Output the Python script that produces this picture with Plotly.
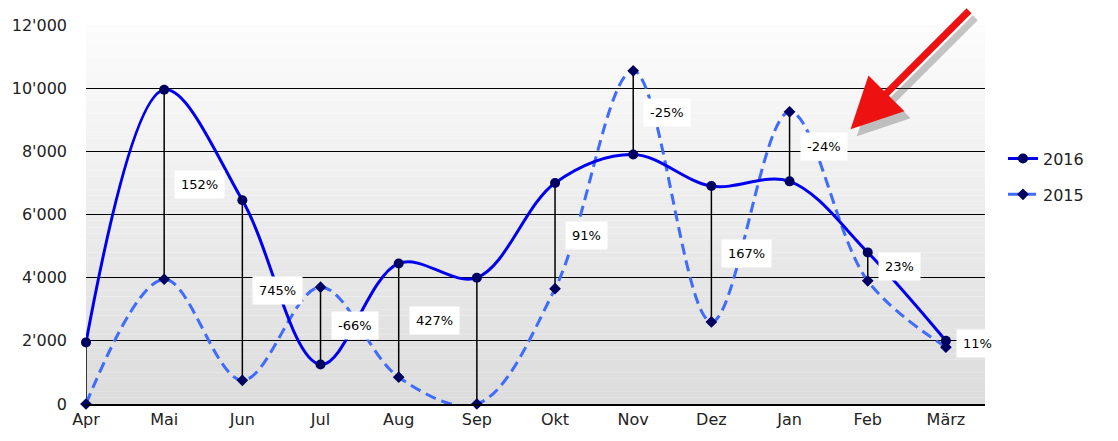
import plotly.graph_objects as go

months = ["Apr", "Mai", "Jun", "Jul", "Aug", "Sep", "Okt", "Nov", "Dez", "Jan", "Feb", "März"]
values_2016 = [1950, 9950, 6450, 1250, 4450, 4000, 7000, 7900, 6900, 7050, 4800, 2000]
values_2015 = [0, 3950, 750, 3700, 850, 0, 3650, 10550, 2600, 9250, 3900, 1800]
pct_labels = ["", "152%", "745%", "-66%", "427%", "", "91%", "-25%", "167%", "-24%", "23%", "11%"]
y_ticks = [0, 2000, 4000, 6000, 8000, 10000, 12000]
y_ticktext = ["0", "2'000", "4'000", "6'000", "8'000", "10'000", "12'000"]

xs = list(range(len(months)))
FONT = "DejaVu Sans, Verdana, sans-serif"

fig = go.Figure()

# background gradient (white at top -> light gray at bottom)
n_bands = 60
for i in range(n_bands):
    t = i / (n_bands - 1)
    c = int(round(0xdc + (0xfc - 0xdc) * t))
    fig.add_shape(type="rect", xref="paper", yref="paper",
                  x0=0, x1=1, y0=i / n_bands, y1=(i + 1) / n_bands,
                  fillcolor=f"rgb({c},{c},{c})", line_width=0, layer="below")

# vertical connectors between the two years
cx, cy = [], []
for x, a, b in zip(xs, values_2016, values_2015):
    cx += [x, x, None]
    cy += [a, b, None]
fig.add_trace(go.Scatter(x=cx, y=cy, mode="lines", line=dict(color="black", width=1.5),
                         showlegend=False, hoverinfo="skip", cliponaxis=False))

fig.add_trace(go.Scatter(x=xs, y=values_2015, name="2015", legendgroup="g2015", legendrank=2,
                         mode="lines+markers",
                         line=dict(color="#3f6bff", width=3, dash="11px,6px", shape="spline"),
                         marker=dict(symbol="diamond", size=9, color="#000060"),
                         cliponaxis=False))
fig.add_trace(go.Scatter(x=xs, y=values_2016, name="2016", legendgroup="g2016", legendrank=1,
                         mode="lines+markers",
                         line=dict(color="#0000ee", width=3, shape="spline"),
                         marker=dict(symbol="circle", size=10, color="#000060"),
                         cliponaxis=False))

# percentage labels next to each connector, vertically at its midpoint
for x, a, b, lab in zip(xs, values_2016, values_2015, pct_labels):
    if not lab:
        continue
    fig.add_annotation(x=x, y=(a + b) / 2, text=lab, showarrow=False,
                       xanchor="left", xshift=10,
                       bgcolor="white", borderpad=6,
                       font=dict(family=FONT, size=13, color="black"))

# red arrow with shadow
fig.add_annotation(x=9.86, y=8480, ax=120, ay=-120, text="", showarrow=True,
                   arrowhead=2, arrowsize=1.45, arrowwidth=7, arrowcolor="rgba(70,70,70,0.3)",
                   standoff=0)
fig.add_annotation(x=9.78, y=8700, ax=120, ay=-120, text="", showarrow=True,
                   arrowhead=2, arrowsize=1.45, arrowwidth=7, arrowcolor="#ee1111",
                   standoff=0)

fig.update_layout(
    width=1118, height=441,
    margin=dict(l=78, r=141, t=17, b=45),
    paper_bgcolor="white", plot_bgcolor="rgba(0,0,0,0)",
    font=dict(family=FONT, size=16, color="#222222"),
    legend=dict(x=1.02, y=0.6, xanchor="left", yanchor="middle",
                traceorder="grouped", font=dict(size=16, color="#222222"),
                bgcolor="rgba(0,0,0,0)", tracegroupgap=12),
    showlegend=True,
)
fig.update_xaxes(range=[0, 11.5], tickvals=xs, ticktext=months, showgrid=False,
                 zeroline=False, showline=True, linecolor="black", linewidth=1.5,
                 ticks="", ticklen=0, automargin=False)
fig.update_yaxes(range=[0, 12000], tickvals=y_ticks, ticktext=y_ticktext,
                 showgrid=True, gridcolor="black", gridwidth=1.3, zeroline=False,
                 showline=False, ticks="", ticklabelstandoff=18, automargin=False)

fig.write_html("out.html")
